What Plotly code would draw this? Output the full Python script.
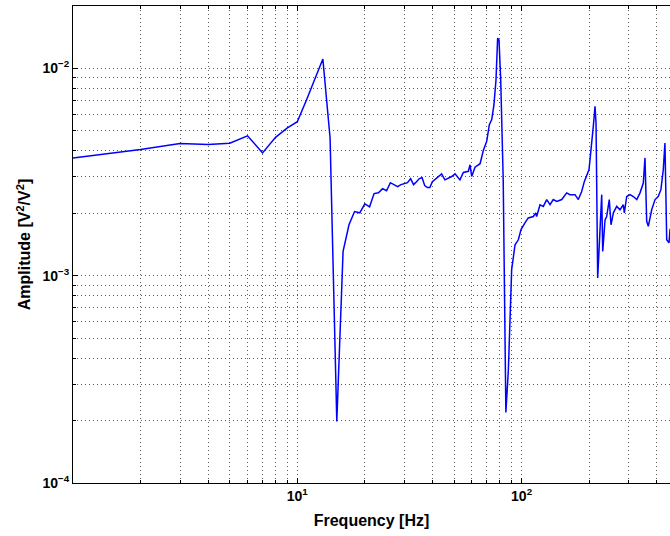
import plotly.graph_objects as go
import math

# Frequency [Hz]
freq = [1, 2, 3, 4, 5, 6, 7, 8, 9, 10, 11, 12, 13, 14, 15, 16, 17, 18, 19, 20,
        21, 22, 23, 24, 25, 26, 27, 28, 29, 30, 31, 32, 33, 34, 35, 36, 37, 38, 39, 40,
        41.8, 44.0, 45.5, 48.8, 50.5, 53.1, 55.0, 57.9, 58.9, 59.9, 62.0, 65.3, 67.5, 69.9,
        71.8, 73.6, 75.3, 76.9, 78.2, 79.3, 80.7, 81.8, 82.8, 85.1, 87.3, 90.3, 93.5, 96.7,
        99.4, 103.5, 107.1, 112.8, 115.6, 116.7, 120.8, 125.0, 129.4, 133.9, 138.4, 143.5,
        151.0, 158.9, 164.3, 173.0, 179.0, 185.3, 190.5, 199.8, 203.9, 208.8, 212.5, 214.7,
        218.4, 223.7, 227.6, 230.0, 235.5, 239.5, 246.0, 250.4, 256.5, 265.5, 274.6, 284.1,
        287.1, 294.2, 304.3, 314.8, 326.2, 337.3, 348.8, 354.9, 361.2, 367.2, 380.2, 393.5,
        406.4, 418.0, 428.2, 435.6, 440.4, 443.5, 454.3, 458.8, 470.0]

# Amplitude [V^2/V^2]
amp = [3.70e-3, 4.06e-3, 4.34e-3, 4.30e-3, 4.36e-3, 4.73e-3, 3.91e-3, 4.65e-3, 5.15e-3, 5.53e-3,
       7.06e-3, 8.99e-3, 1.11e-2, 4.62e-3, 1.98e-4, 1.31e-3, 1.76e-3, 2.04e-3, 2.01e-3, 2.22e-3,
       2.15e-3, 2.49e-3, 2.51e-3, 2.63e-3, 2.57e-3, 2.81e-3, 2.75e-3, 2.69e-3, 2.75e-3, 2.78e-3,
       2.81e-3, 2.94e-3, 2.75e-3, 2.84e-3, 2.94e-3, 2.97e-3, 2.72e-3, 2.66e-3, 2.66e-3, 2.84e-3,
       2.96e-3, 3.10e-3, 2.90e-3, 3.01e-3, 3.10e-3, 2.90e-3, 3.15e-3, 3.19e-3, 3.43e-3, 3.01e-3,
       3.34e-3, 3.47e-3, 4.02e-3, 4.45e-3, 5.35e-3, 5.66e-3, 6.68e-3, 8.82e-3, 1.40e-2, 1.37e-2,
       8.82e-3, 5.06e-3, 2.90e-3, 2.19e-4, 3.52e-4, 1.07e-3, 1.41e-3, 1.49e-3, 1.67e-3, 1.80e-3,
       1.90e-3, 1.93e-3, 2.01e-3, 1.93e-3, 2.20e-3, 2.16e-3, 2.33e-3, 2.20e-3, 2.33e-3, 2.28e-3,
       2.33e-3, 2.51e-3, 2.46e-3, 2.46e-3, 2.33e-3, 2.55e-3, 2.85e-3, 3.25e-3, 3.98e-3, 5.25e-3,
       6.56e-3, 5.45e-3, 9.75e-4, 1.55e-3, 2.46e-3, 1.31e-3, 1.86e-3, 1.93e-3, 2.33e-3, 1.76e-3,
       2.01e-3, 2.16e-3, 2.08e-3, 2.20e-3, 2.01e-3, 2.41e-3, 2.46e-3, 2.41e-3, 2.33e-3, 2.51e-3,
       2.80e-3, 3.70e-3, 1.83e-3, 1.73e-3, 2.08e-3, 2.33e-3, 2.41e-3, 2.60e-3, 3.25e-3, 4.37e-3,
       2.70e-3, 1.49e-3, 1.44e-3, 1.67e-3, 1.70e-3]

x_major = [10, 100]
x_major_text = ["10<sup>1</sup>", "10<sup>2</sup>"]
y_major = [1e-4, 1e-3, 1e-2]
y_major_text = ["10<sup>\u22124</sup>", "10<sup>\u22123</sup>", "10<sup>\u22122</sup>"]

x_minor = [m * d for d in (1, 10, 100) for m in range(2, 10)]
y_minor = [m * d for d in (1e-4, 1e-3, 1e-2) for m in range(2, 10)]

FONT = "Liberation Sans"
GRID = "rgba(60,60,60,0.85)"
DOT = "1px,3px"

fig = go.Figure()
fig.add_trace(go.Scatter(x=freq, y=amp, mode="lines",
                         line=dict(color="#0000ff", width=1.5), showlegend=False))

fig.update_layout(
    width=670, height=536,
    margin=dict(l=73, r=0, t=6, b=53),
    paper_bgcolor="white", plot_bgcolor="white",
    font=dict(family=FONT, size=14, color="black"),
)

fig.update_xaxes(
    type="log", range=[0, math.log10(458.8)],
    tickmode="array", tickvals=x_major, ticktext=x_major_text,
    tickfont=dict(family=FONT, size=14, color="black", weight="bold"),
    ticks="inside", ticklen=5, tickcolor="black", tickwidth=1,
    showline=True, linecolor="black", linewidth=1, mirror="allticks",
    showgrid=True, gridcolor=GRID, griddash=DOT, gridwidth=1,
    minor=dict(tickvals=x_minor, ticks="inside", ticklen=3, tickcolor="black",
               showgrid=True, gridcolor=GRID, griddash=DOT, gridwidth=1),
    title=dict(text="Frequency [Hz]", font=dict(family=FONT, size=16, color="black", weight="bold"),
               standoff=12),
    zeroline=False,
)
fig.update_yaxes(
    type="log", range=[-4, math.log10(0.02)],
    tickmode="array", tickvals=y_major, ticktext=y_major_text,
    tickfont=dict(family=FONT, size=14, color="black", weight="bold"),
    ticks="inside", ticklen=5, tickcolor="black", tickwidth=1,
    showline=True, linecolor="black", linewidth=1, mirror=False,
    showgrid=True, gridcolor=GRID, griddash=DOT, gridwidth=1,
    minor=dict(tickvals=y_minor, ticks="inside", ticklen=3, tickcolor="black",
               showgrid=True, gridcolor=GRID, griddash=DOT, gridwidth=1),
    title=dict(text="Amplitude [V<sup>2</sup>/V<sup>2</sup>]",
               font=dict(family=FONT, size=16, color="black", weight="bold"), standoff=7),
    zeroline=False,
)

fig.write_html("out.html")
